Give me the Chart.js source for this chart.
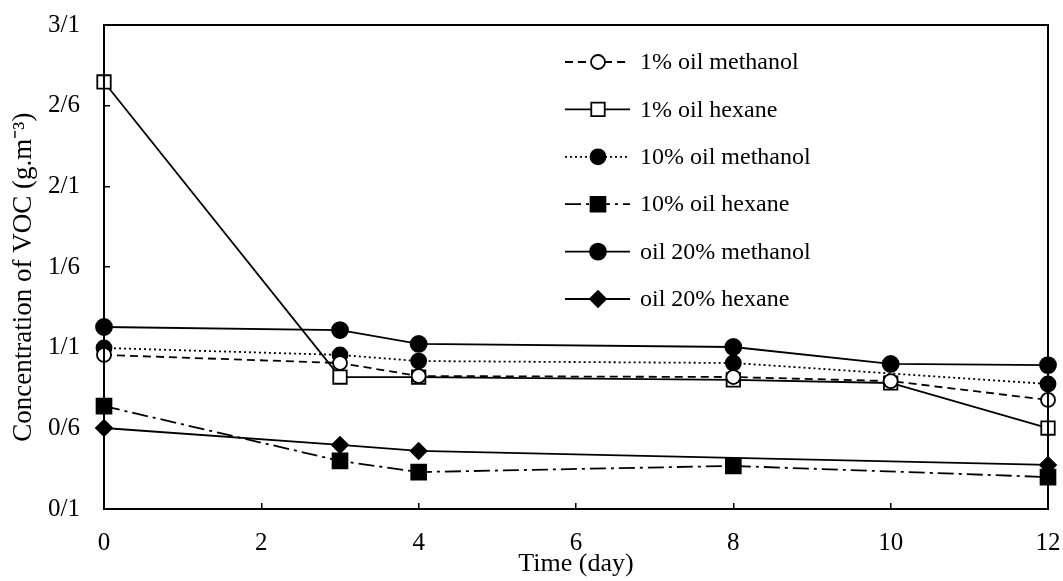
<!DOCTYPE html>
<html>
<head>
<meta charset="utf-8">
<script src="https://cdn.jsdelivr.net/npm/chart.js@4.4.0/dist/chart.umd.min.js"></script>
<style>
    html, body { margin: 0; padding: 0; background: #fff; }
</style>
</head>
<body>
<canvas id="voc-chart" width="1063" height="581"></canvas>
<script>
// days sampled
const days = [0, 3, 4, 8, 10, 12];
const days10 = [0, 3, 4, 8, 12];
const days20Hexane = [0, 3, 4, 12];

// concentration of VOC (g.m-3)
const oil1Methanol = [1.055, 1.005, 0.924, 0.918, 0.893, 0.776];
const oil1Hexane = [2.747, 0.918, 0.918, 0.900, 0.881, 0.602];
const oil10Methanol = [1.098, 1.055, 1.017, 1.005, 0.875];
const oil10Hexane = [0.738, 0.398, 0.329, 0.367, 0.298];
const oil20Methanol = [1.228, 1.209, 1.123, 1.104, 0.999, 0.992];
const oil20Hexane = [0.602, 0.497, 0.460, 0.373];

const yTicks = [0.1, 0.6, 1.1, 1.6, 2.1, 2.6, 3.1];
const FONT_FAMILY = '"Liberation Serif", "Times New Roman", serif';

function pts(xs, ys) {
    return xs.map((x, i) => ({ x: x, y: ys[i] }));
}

function makeSet(label, xs, ys, style) {
    return Object.assign({
        label: label,
        data: pts(xs, ys),
        borderColor: '#000',
        borderWidth: 1.8,
        pointBorderColor: '#000',
        pointBorderWidth: 1.8,
        tension: 0,
        clip: false,
    }, style);
}

const datasets = [
    makeSet('1% oil methanol', days, oil1Methanol, {
        borderDash: [8, 5], pointStyle: 'circle', pointRadius: 7, pointBackgroundColor: '#fff',
    }),
    makeSet('1% oil hexane', days, oil1Hexane, {
        borderDash: [], pointStyle: 'rect', pointRadius: 9.5, pointBackgroundColor: '#fff',
    }),
    makeSet('10% oil methanol', days10, oil10Methanol, {
        borderDash: [2, 3], pointStyle: 'circle', pointRadius: 7.5, pointBackgroundColor: '#000',
    }),
    makeSet('10% oil hexane', days10, oil10Hexane, {
        borderDash: [16, 5, 3, 5], pointStyle: 'rect', pointRadius: 10.5, pointBackgroundColor: '#000',
    }),
    makeSet('oil 20% methanol', days, oil20Methanol, {
        borderDash: [], pointStyle: 'circle', pointRadius: 8, pointBackgroundColor: '#000',
    }),
    makeSet('oil 20% hexane', days20Hexane, oil20Hexane, {
        borderDash: [], pointStyle: 'rectRot', pointRadius: 8, pointBackgroundColor: '#000',
    }),
];

function drawMarker(ctx, style, r, x, y, fill) {
    ctx.save();
    ctx.beginPath();
    if (style === 'circle') {
        ctx.arc(x, y, r, 0, Math.PI * 2);
    } else if (style === 'rect') {
        const s = Math.SQRT1_2 * r;
        ctx.rect(x - s, y - s, 2 * s, 2 * s);
    } else {
        ctx.moveTo(x - r, y);
        ctx.lineTo(x, y - r);
        ctx.lineTo(x + r, y);
        ctx.lineTo(x, y + r);
        ctx.closePath();
    }
    ctx.fillStyle = fill;
    ctx.fill();
    ctx.setLineDash([]);
    ctx.lineWidth = 1.8;
    ctx.strokeStyle = '#000';
    ctx.stroke();
    ctx.restore();
}

// box frame + legend drawn inside the plot
const framePlugin = {
    id: 'frameAndLegend',
    afterDraw(chart) {
        const ctx = chart.ctx;
        const a = chart.chartArea;
        ctx.save();
        ctx.strokeStyle = '#000';
        ctx.lineWidth = 2;
        ctx.strokeRect(a.left, a.top, a.right - a.left, a.bottom - a.top);

        chart.data.datasets.forEach((ds, i) => {
            const y = 62 + i * 47.4;
            ctx.beginPath();
            ctx.setLineDash(ds.borderDash);
            ctx.lineWidth = 1.8;
            ctx.moveTo(565, y);
            ctx.lineTo(630, y);
            ctx.stroke();
            drawMarker(ctx, ds.pointStyle, ds.pointRadius, 598, y, ds.pointBackgroundColor);
            ctx.setLineDash([]);
            ctx.fillStyle = '#000';
            ctx.font = '24px ' + FONT_FAMILY;
            ctx.textBaseline = 'middle';
            ctx.textAlign = 'left';
            ctx.fillText(ds.label, 640, y + 1);
        });
        ctx.restore();
    },
};

function noPad(scale) {
    scale.paddingTop = 0;
    scale.paddingBottom = 0;
    scale.paddingLeft = 0;
    scale.paddingRight = 0;
}

const config = {
    type: 'line',
    data: { datasets: datasets },
    options: {
        responsive: false,
        animation: false,
        layout: { autoPadding: false, padding: { top: 25, right: 15, left: 0, bottom: 0 } },
        plugins: {
            legend: { display: false },
            tooltip: { enabled: false },
        },
        scales: {
            x: {
                type: 'linear',
                min: 0,
                max: 12,
                ticks: {
                    stepSize: 2,
                    color: '#000',
                    padding: 25,
                    maxRotation: 0,
                    font: { family: FONT_FAMILY, size: 25 },
                },
                grid: { drawOnChartArea: false, color: '#000', tickLength: -6, lineWidth: 1.5 },
                border: { color: '#000', width: 2 },
                title: {
                    display: true,
                    text: 'Time (day)',
                    color: '#000',
                    padding: { top: 0, bottom: 1 },
                    font: { family: FONT_FAMILY, size: 26 },
                },
                afterFit(scale) {
                    scale.height = 72;
                    noPad(scale);
                },
            },
            y: {
                type: 'linear',
                min: 0.1,
                max: 3.1,
                afterBuildTicks(scale) {
                    scale.ticks = yTicks.map(v => ({ value: v }));
                },
                ticks: {
                    color: '#000',
                    padding: 30,
                    font: { family: FONT_FAMILY, size: 25 },
                    callback: (v) => v.toFixed(1).replace('.', '/'),
                },
                grid: { drawOnChartArea: false, color: '#000', tickLength: -6, lineWidth: 1.5 },
                border: { color: '#000', width: 2 },
                title: {
                    display: true,
                    // trailing spaces nudge the rotated title a little lower
                    text: 'Concentration of VOC (g.m⁻³)   ',
                    color: '#000',
                    padding: { top: 8, bottom: 0 },
                    font: { family: FONT_FAMILY, size: 27 },
                },
                afterFit(scale) {
                    scale.width = 104;
                    noPad(scale);
                },
            },
        },
    },
    plugins: [framePlugin],
};

new Chart(document.getElementById('voc-chart'), config);
</script>
</body>
</html>
